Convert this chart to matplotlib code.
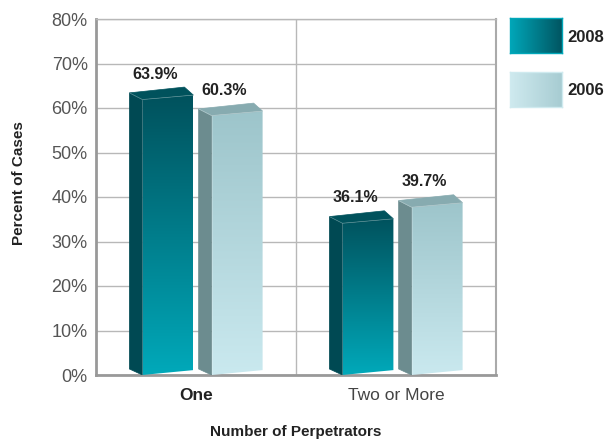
import numpy as np
import matplotlib
matplotlib.use('Agg')
from matplotlib import pyplot as plt
from matplotlib.patches import Polygon
from matplotlib.colors import LinearSegmentedColormap

categories = ['One', 'Two or More']
years = ['2008', '2006']
y2008 = [63.9, 36.1]
y2006 = [60.3, 39.7]

plt.rcParams['font.family'] = ['Liberation Sans', 'DejaVu Sans']
narrow = ['Liberation Sans Narrow', 'Liberation Sans', 'DejaVu Sans']

# colours: (front top, front bottom, side, top)
styles = {
    '2008': ('#00505b', '#00a9ba', '#004953', '#00525c'),
    '2006': ('#9cc4ca', '#cae9ef', '#6c8c8f', '#87abb0'),
}
offsets = {'2008': -0.268, '2006': 0.078}

W = 0.255   # front width
D = 0.065   # side depth

fig = plt.figure(figsize=(6.05, 4.41), dpi=100)
ax = fig.add_axes([96 / 605, 1 - 375 / 441, 400 / 605, 356 / 441])
ax.set_xlim(0, 2)
ax.set_ylim(0, 80)

grad = np.linspace(0, 1, 256).reshape(-1, 1)


def draw_bar(x0, v, st):
    top_c, bot_c, side_c, cap_c = st
    front = Polygon([(x0, 0), (x0 + W, 1.1), (x0 + W, v - 1.0), (x0, v - 2.0)],
                    closed=True, facecolor='none', edgecolor='none', zorder=3)
    ax.add_patch(front)
    cmap = LinearSegmentedColormap.from_list('g', [bot_c, top_c])
    im = ax.imshow(grad, cmap=cmap, origin='lower', aspect='auto',
                   extent=(x0, x0 + W, 0, v), zorder=3)
    im.set_clip_path(front)
    side = Polygon([(x0 - D, 1.35), (x0, 0), (x0, v - 2.0), (x0 - D, v - 0.5)],
                   closed=True, facecolor=side_c, edgecolor=side_c, lw=0.5, zorder=3)
    ax.add_patch(side)
    cap = Polygon([(x0 - D, v - 0.5), (x0, v - 2.0), (x0 + W, v - 1.0),
                   (x0 + W - 0.045, v + 0.8)],
                  closed=True, facecolor=cap_c, edgecolor=cap_c, lw=0.5, zorder=3)
    ax.add_patch(cap)
    # light edge where faces meet
    ax.plot([x0 - D, x0, x0 + W], [v - 0.5, v - 2.0, v - 1.0], color='white',
            lw=0.5, alpha=0.35, zorder=4)
    ax.plot([x0, x0], [0, v - 2.0], color='white', lw=0.5, alpha=0.25, zorder=4)


for i, c in enumerate(categories):
    cx = i + 0.5
    for yr, vals in zip(years, [y2008, y2006]):
        x0 = cx + offsets[yr]
        v = vals[i]
        draw_bar(x0, v, styles[yr])
        ax.text(x0 + 0.065, v + 2.0, '%.1f%%' % v, ha='center', va='bottom',
                fontsize=11.5, fontweight='bold', color='#222222', zorder=5)

ax.set_xlim(0, 2)
ax.set_ylim(0, 80)

ax.set_yticks(np.arange(0, 81, 10))
ax.set_yticklabels(['%d%%' % t for t in range(0, 81, 10)], fontsize=13, color='#555555')
ax.yaxis.grid(True, color='#b8b8b8', lw=1)
ax.set_axisbelow(True)
ax.axvline(1, color='#b8b8b8', lw=1, zorder=1)
ax.tick_params(axis='y', length=0, pad=6)
ax.set_xticks([0.5, 1.5])
ax.set_xticklabels(categories, fontsize=12.5, color='#222222')
ax.get_xticklabels()[0].set_fontweight('bold')
ax.get_xticklabels()[1].set_color('#444444')
ax.tick_params(axis='x', length=0, pad=9)

for s in ['left', 'bottom']:
    ax.spines[s].set_color('#999999')
    ax.spines[s].set_linewidth(2)
ax.spines['right'].set_color('#aaaaaa')
ax.spines['right'].set_linewidth(1.5)
ax.spines['top'].set_color('#b8b8b8')
ax.spines['top'].set_linewidth(1)

fig.text(296 / 605, 1 - 432 / 441, 'Number of Perpetrators', fontsize=11,
         fontweight='bold', color='#222222', ha='center', va='center',
         family=narrow)
fig.text(19 / 605, 1 - 183 / 441, 'Percent of Cases', fontsize=11,
         fontweight='bold', color='#222222', ha='center', va='center',
         rotation=90, family=narrow)

# legend with gradient boxes
leg = [('2008', '#00a7b9', '#005561', 18), ('2006', '#cfeaef', '#a7ccd2', 72)]
for name, lc, rc, ytop in leg:
    lax = fig.add_axes([510 / 605, 1 - (ytop + 35) / 441, 52 / 605, 35 / 441])
    cm = LinearSegmentedColormap.from_list('l', [lc, rc])
    lax.imshow(np.linspace(0, 1, 256).reshape(1, -1), cmap=cm, aspect='auto')
    lax.set_xticks([])
    lax.set_yticks([])
    for s in lax.spines.values():
        s.set_color(lc)
        s.set_linewidth(1)
    fig.text(567 / 605, 1 - (ytop + 19) / 441, name, fontsize=12,
             fontweight='bold', color='#222222', va='center', ha='left',
             family=narrow)

fig.savefig('out.png', dpi=100)
